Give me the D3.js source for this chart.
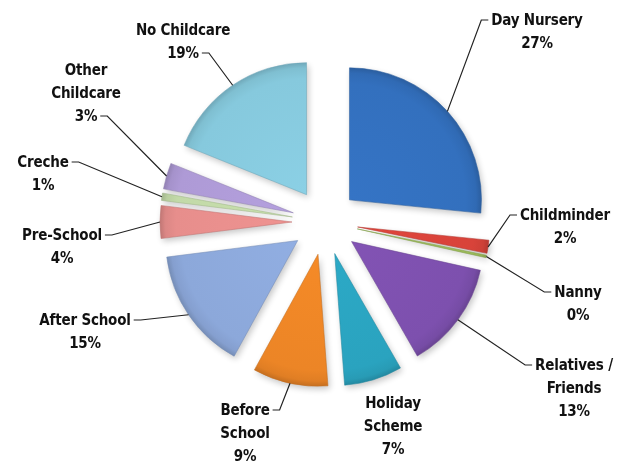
<!DOCTYPE html>
<html>
<head>
<meta charset="utf-8">
<script src="https://cdn.jsdelivr.net/npm/d3@7/dist/d3.min.js"></script>
<style>
  html, body { margin: 0; padding: 0; background: #fff; }
  svg { display: block; }
  .lbl { font-family: "DejaVu Sans Condensed", "DejaVu Sans", sans-serif; font-stretch: condensed; font-weight: bold; font-size: 15px; letter-spacing: -0.2px; fill: #111; }
</style>
</head>
<body>
<svg id="chart" width="621" height="465"></svg>
<script>
// childcare used, share of total (%)
const categories = ['Day Nursery', 'Childminder', 'Nanny', 'Relatives / Friends', 'Holiday Scheme',
  'Before School', 'After School', 'Pre-School', 'Creche', 'Other Childcare', 'No Childcare'];
const shares = [26.6, 1.6, 0.3, 13.2, 7.1, 9.2, 15.0, 4.0, 0.9, 3.2, 18.9];
const shownPct = ['27%', '2%', '0%', '13%', '7%', '9%', '15%', '4%', '1%', '3%', '19%'];
// how each label is broken into lines
const labelLines = [['Day Nursery'], ['Childminder'], ['Nanny'], ['Relatives /', 'Friends'], ['Holiday', 'Scheme'],
  ['Before', 'School'], ['After School'], ['Pre-School'], ['Creche'], ['Other', 'Childcare'], ['No Childcare']];

const colors = ['#3370be', '#d8433a', '#9bbb59', '#7d50ae', '#2aa3bf', '#ec8526',
  '#8ca8da', '#e78e8c', '#c2d9a8', '#ae9ad6', '#86c9dd'];

// label placement: centre x, first baseline, line the leader hangs from (-1 = none)
const labelAt = [[537, 25, 0], [565, 220, 0], [578, 297, 0], [574, 370, 0], [393, 408, -1],
  [245, 415, 0], [85, 325, 0], [62, 240, 0], [43, 167, 0], [86, 75, 2], [183, 35, 1]];

const cx = 325, cy = 222, radius = 132, explode = 33, lineH = 23;

const svg = d3.select('#chart');
const defs = svg.append('defs');

// blur used only on the grey shadow copies
defs.append('filter').attr('id', 'blur')
  .attr('x', '-20%').attr('y', '-20%').attr('width', '140%').attr('height', '140%')
  .append('feGaussianBlur').attr('stdDeviation', 3);

const pie = d3.pie().sort(null).value(d => d)(shares);
const arc = d3.arc().innerRadius(0).outerRadius(radius);

const data = pie.map((p, i) => {
  const mid = (p.startAngle + p.endAngle) / 2;
  const ox = cx + explode * Math.sin(mid), oy = cy - explode * Math.cos(mid);
  return { p, i, mid, ox, oy,
    tipX: ox + radius * Math.sin(mid), tipY: oy - radius * Math.cos(mid) };
});

// bevel-ish gradient per slice; paths are translated, so centre at local 0,0
data.forEach(d => {
  const c = d3.color(colors[d.i]);
  const g = defs.append('radialGradient').attr('id', 'g' + d.i)
    .attr('gradientUnits', 'userSpaceOnUse')
    .attr('cx', 0).attr('cy', 0).attr('r', radius);
  g.append('stop').attr('offset', '0%').attr('stop-color', c.brighter(0.1).formatHex());
  g.append('stop').attr('offset', '88%').attr('stop-color', c.formatHex());
  g.append('stop').attr('offset', '96%').attr('stop-color', c.darker(0.15).formatHex());
  g.append('stop').attr('offset', '100%').attr('stop-color', c.darker(0.5).formatHex());
});

svg.append('g').attr('filter', 'url(#blur)').attr('opacity', 0.22)
  .selectAll('path').data(data).enter()
  .append('path')
  .attr('transform', d => `translate(${d.ox + 2},${d.oy + 3})`)
  .attr('d', d => arc(d.p))
  .attr('fill', '#000');

svg.append('g')
  .selectAll('path').data(data).enter()
  .append('path')
  .attr('transform', d => `translate(${d.ox},${d.oy})`)
  .attr('d', d => arc(d.p))
  .attr('fill', d => `url(#g${d.i})`)
  .attr('stroke', d => d3.color(colors[d.i]).darker(0.5).formatHex())
  .attr('stroke-opacity', 0.55)
  .attr('stroke-width', 1);

// labels + leader lines
const lg = svg.append('g');
data.forEach(d => {
  const [lx, ly, attach] = labelAt[d.i];
  const lines = labelLines[d.i].concat([shownPct[d.i]]);
  const widths = [];
  lines.forEach((t, k) => {
    const txt = lg.append('text').attr('class', 'lbl')
      .attr('x', lx).attr('y', ly + k * lineH)
      .attr('text-anchor', 'middle').text(t);
    widths.push(txt.node().getComputedTextLength());
  });
  if (attach < 0) return;
  const left = d.tipX < lx;
  const w = widths[attach];
  const sx = left ? lx - w / 2 - 3 : lx + w / 2 + 3;
  const sy = ly + attach * lineH - 5;
  const ex = left ? sx - 7 : sx + 7;
  lg.append('path')
    .attr('d', d3.line()([[sx, sy], [ex, sy], [d.tipX, d.tipY]]))
    .attr('fill', 'none').attr('stroke', '#222').attr('stroke-width', 1.2);
});
</script>
</body>
</html>
